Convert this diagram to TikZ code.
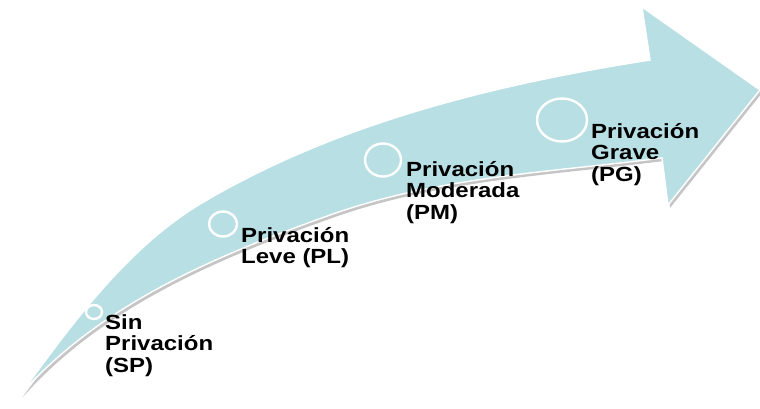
\documentclass[tikz,border=0pt]{standalone}
\usepackage{fontspec}
\newfontfamily\lblfont[FakeStretch=1.17]{Liberation Sans}
\usetikzlibrary{positioning}
\definecolor{arrowblue}{RGB}{184,223,227}
\definecolor{shadowgray}{RGB}{150,150,150}

\begin{document}
\begin{tikzpicture}[x=1pt,y=-1pt,
    ring/.style={draw=white, line width=2.4pt},
    lbl/.style={anchor=north west, inner sep=0pt, align=left,
        font=\lblfont\bfseries\fontsize{20.5}{21.5}\selectfont}]

        \useasboundingbox (0,0) rectangle (760,408);

        % curved arrow
        \path[fill=arrowblue, draw=white, line width=1.4pt,
              preaction={fill=shadowgray, opacity=.55,
                         transform canvas={shift={(2pt,-3pt)}}}]
            (20,395) .. controls (74,321) and (130,244) .. (207,200)
            .. controls (341,122) and (497,84) .. (650,60)
            -- (642,7) -- (760,90) -- (668,205) -- (662,158)
            .. controls (552,172) and (438,177) .. (333,214)
            .. controls (220,254) and (101,303) .. (20,395)
            -- cycle;

        \draw[ring] (94,312) ellipse (8 and 7);
        \draw[ring] (223,224) ellipse (14 and 12.5);
        \draw[ring] (383,160) ellipse (18 and 16.5);
        \draw[ring] (562,120) ellipse (25 and 21.5);

        \node[lbl] (sp) at (105,314) {Sin\\Privación\\(SP)};
        \node[lbl] (pl) at (241,227) {Privación\\Leve (PL)};
        \node[lbl] (pm) at (406,161) {Privación\\Moderada\\(PM)};
        \node[lbl] (pg) at (591,123) {Privación\\Grave\\(PG)};

\end{tikzpicture}
\end{document}
